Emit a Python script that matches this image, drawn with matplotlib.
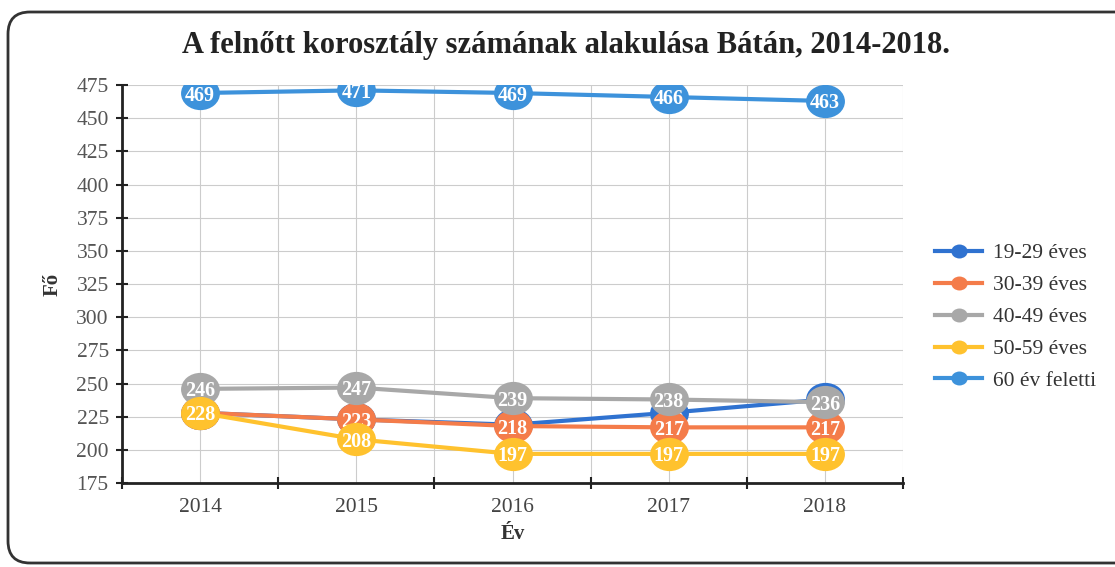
import numpy as np
import matplotlib
matplotlib.use("Agg")
import matplotlib.pyplot as plt
from matplotlib.patches import FancyBboxPatch
from matplotlib.path import Path
from matplotlib.transforms import Affine2D, IdentityTransform
from matplotlib.ticker import FixedLocator, MultipleLocator

# Data
years = ["2014", "2015", "2016", "2017", "2018"]
series_names = ["19-29 éves", "30-39 éves", "40-49 éves", "50-59 éves", "60 év feletti"]
age_19_29 = [228, 223, 219, 228, 238]
age_30_39 = [228, 223, 218, 217, 217]
age_40_49 = [246, 247, 239, 238, 236]
age_50_59 = [228, 208, 197, 197, 197]
age_60_up = [469, 471, 469, 466, 463]
colors = ["#2F72D0", "#F47C4A", "#A8A8A8", "#FFC22E", "#3D92DB"]

title = "A felnőtt korosztály számának alakulása Bátán, 2014-2018."

plt.rcParams['font.family'] = ['Liberation Serif', 'DejaVu Serif']

fig = plt.figure(figsize=(11.15, 5.67), dpi=100)
ax = fig.add_axes([0.1094, 0.148, 0.7005, 0.702])

# slightly wide oval marker, like the scanned original
oval = Path.unit_circle().transformed(Affine2D().scale(1.17, 1.0))

x = np.arange(len(years))
all_series = [age_19_29, age_30_39, age_40_49, age_50_59, age_60_up]
for i, (name, vals, col) in enumerate(zip(series_names, all_series, colors)):
    z = 3 + i * 2
    ax.plot(x, vals, color=col, lw=3, marker=oval, markersize=28,
            markeredgewidth=0, label=name, zorder=z)
    for xi, v in zip(x, vals):
        ax.text(xi, v, str(v), color="white", fontsize=14.5, fontweight="bold",
                ha="center", va="center_baseline", zorder=z + 1)

ax.set_xlim(-0.5, 4.5)
ax.set_ylim(175, 475)
ax.yaxis.set_major_locator(MultipleLocator(25))
ax.set_xticks(x)
ax.set_xticklabels(years)
ax.xaxis.set_minor_locator(FixedLocator(np.arange(-0.5, 5.0, 1.0)))

ax.grid(True, which="major", axis="both", color="#cccccc", lw=0.8)
ax.grid(True, which="minor", axis="x", color="#cccccc", lw=0.8)
ax.set_axisbelow(True)

for side in ["top", "right"]:
    ax.spines[side].set_visible(False)
for side in ["left", "bottom"]:
    ax.spines[side].set_linewidth(2)
    ax.spines[side].set_color("#222222")

ax.tick_params(axis="y", which="major", direction="inout", length=9, width=1.5,
               color="#222222", labelsize=15.5, labelcolor="#555555", pad=5)
ax.tick_params(axis="x", which="major", length=0, labelsize=15.5,
               labelcolor="#444444", pad=11)
ax.tick_params(axis="x", which="minor", direction="inout", length=9, width=1.5,
               color="#222222")

ax.set_ylabel("Fő", fontsize=15, fontweight="bold", color="#333333", labelpad=10)
ax.set_xlabel("Év", fontsize=15, fontweight="bold", color="#333333", labelpad=5)

fig.text(0.508, 0.92, title, ha="center", va="center", fontsize=22,
         fontweight="bold", color="#222222")

leg = ax.legend(loc="center left", bbox_to_anchor=(1.016, 0.417), frameon=False,
                fontsize=15.5, labelspacing=0.55, handlelength=2.2,
                handletextpad=0.5, markerscale=0.42)
for t in leg.get_texts():
    t.set_color("#333333")

# rounded frame around the whole chart
frame = FancyBboxPatch((8, 4), 1130, 551, boxstyle="round,pad=0,rounding_size=22",
                       transform=IdentityTransform(), fill=False,
                       edgecolor="#333333", lw=2)
fig.patches.append(frame)

fig.savefig("out.png", dpi=100)
